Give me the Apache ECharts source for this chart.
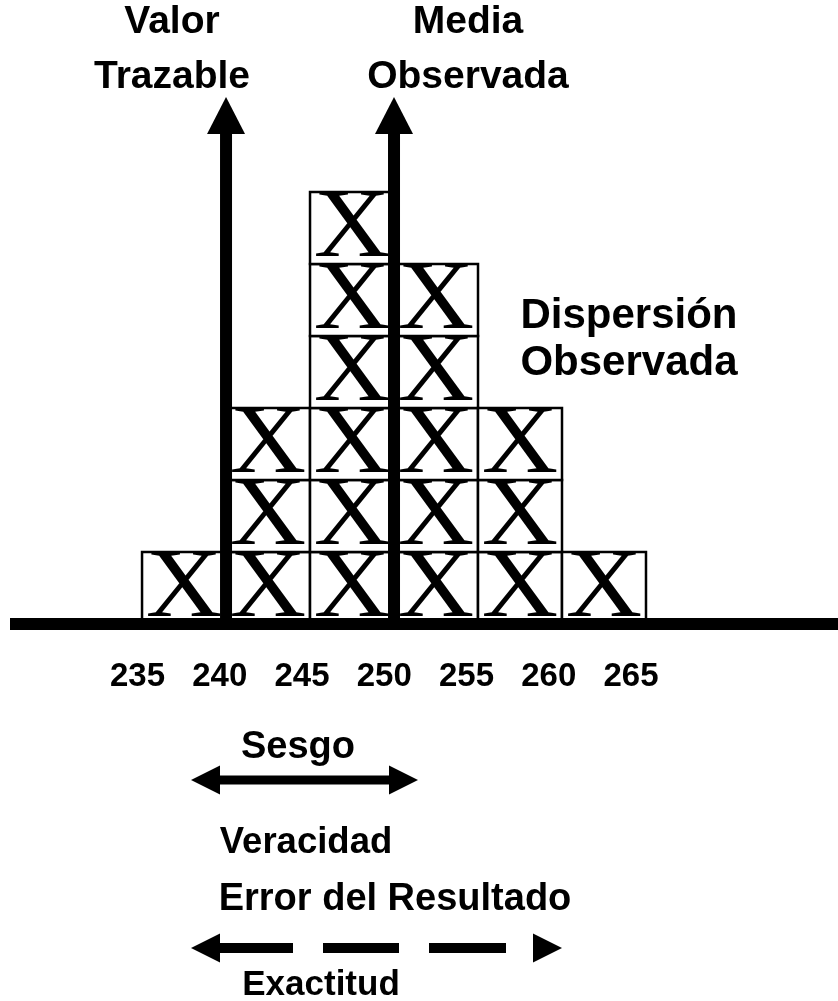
<!DOCTYPE html>
<html lang="es">
<head>
<meta charset="UTF-8">
<title>Veracidad y exactitud</title>
<script src="https://cdn.jsdelivr.net/npm/echarts@6/dist/echarts.min.js"></script>
<style>
  html, body { margin: 0; padding: 0; background: #fff; }
  #main { width: 838px; height: 1001px; }
</style>
</head>
<body>
<div id="main"></div>
<script>
// datos: inicio de cada clase (ancho 5) y cuantas X hay en cada una
var binStarts = [235, 240, 245, 250, 255, 260];
var binCounts = [1, 3, 6, 5, 3, 1];
var binWidth = 5;
var tickValues = [235, 240, 245, 250, 255, 260, 265];
// flechas verticales: valor trazable y media observada (altura en "filas")
var arrowValues = [240, 250];
var arrowHeights = [7.32, 7.32];

var SANS = '"Liberation Sans", Arial, sans-serif';

// una caja por cada X
var boxes = [];
for (var i = 0; i < binStarts.length; i++) {
  for (var r = 0; r < binCounts[i]; r++) {
    boxes.push([binStarts[i], r]);
  }
}
var arrows = arrowValues.map(function (v, i) { return [v, arrowHeights[i]]; });

var chart = echarts.init(document.getElementById('main'));

function txt(text, x, y, size, lh) {
  return {
    type: 'text',
    style: {
      text: text, x: x, y: y,
      textAlign: 'center', textVerticalAlign: 'middle',
      font: 'bold ' + size + 'px ' + SANS,
      lineHeight: lh || size,
      fill: '#000'
    }
  };
}
function headLeft(x, y) { // punta en x
  return { type: 'polygon', shape: { points: [[x, y], [x + 29, y - 14.5], [x + 29, y + 14.5]] }, style: { fill: '#000' } };
}
function headRight(x, y) {
  return { type: 'polygon', shape: { points: [[x, y], [x - 29, y - 14.5], [x - 29, y + 14.5]] }, style: { fill: '#000' } };
}
function bar(x1, x2, y, h) {
  return { type: 'rect', shape: { x: x1, y: y - h / 2, width: x2 - x1, height: h }, style: { fill: '#000' } };
}

chart.setOption({
  animation: false,
  backgroundColor: '#fff',
  grid: { left: 10, right: 0, top: 84, bottom: 377 },
  xAxis: [{
    type: 'value',
    min: 227.14, max: 276.43,
    z: 5,
    axisLine: { show: true, lineStyle: { color: '#000', width: 12, cap: 'butt' } },
    axisTick: { show: false },
    axisLabel: { show: false },
    splitLine: { show: false }
  }, {
    // solo para las etiquetas (algo desplazadas respecto a las cajas)
    type: 'value',
    position: 'bottom',
    min: 227.25, max: 277.58,
    axisLine: { show: false },
    axisTick: { show: false },
    splitLine: { show: false },
    axisLabel: {
      show: true,
      customValues: tickValues,
      margin: 36,
      fontFamily: SANS,
      fontWeight: 'bold',
      fontSize: 33,
      color: '#000'
    }
  }],
  yAxis: {
    type: 'value', min: 0, max: 7.5,
    show: false
  },
  series: [{
    type: 'custom',
    name: 'cajas',
    z: 2,
    clip: false,
    data: boxes,
    renderItem: function (params, api) {
      var x = api.value(0), row = api.value(1);
      var p0 = api.coord([x, row]);
      var p1 = api.coord([x + binWidth, row + 1]);
      return {
        type: 'group',
        children: [{
          type: 'rect',
          shape: { x: p0[0], y: p1[1], width: p1[0] - p0[0], height: p0[1] - p1[1] },
          style: { fill: '#fff', stroke: '#000', lineWidth: 2.5 }
        }, {
          type: 'text',
          x: (p0[0] + p1[0]) / 2,
          y: (p0[1] + p1[1]) / 2 + 2,
          scaleX: 1.08,
          style: {
            text: 'X',
            x: 0, y: 0,
            textAlign: 'center',
            textVerticalAlign: 'middle',
            font: '98px "Liberation Serif", "Times New Roman", serif',
            fill: '#000'
          }
        }]
      };
    }
  }, {
    type: 'custom',
    name: 'flechas',
    z: 3,
    clip: false,
    xAxisIndex: 0,
    data: arrows,
    renderItem: function (params, api) {
      var x = api.value(0), h = api.value(1);
      var base = api.coord([x, 0]);
      var tip = api.coord([x, h]);
      var headH = 37, headW = 38, shaftW = 12;
      return {
        type: 'group',
        children: [{
          type: 'rect',
          shape: { x: base[0] - shaftW / 2, y: tip[1] + headH - 1, width: shaftW, height: base[1] - tip[1] - headH + 1 },
          style: { fill: '#000' }
        }, {
          type: 'polygon',
          shape: { points: [[base[0], tip[1]], [base[0] - headW / 2, tip[1] + headH], [base[0] + headW / 2, tip[1] + headH]] },
          style: { fill: '#000' }
        }]
      };
    }
  }],
  graphic: [
    txt('Valor\nTrazable', 172, 50, 39, 55),
    txt('Media\nObservada', 468, 50, 39, 55),
    txt('Dispersión\nObservada', 629, 340, 42, 47),
    txt('Sesgo', 298, 748, 38),
    headLeft(191, 780), bar(219, 391, 780, 9), headRight(418, 780),
    txt('Veracidad', 306, 843, 36.5),
    txt('Error del Resultado', 395, 900, 38),
    headLeft(191, 948), bar(219, 293, 948, 10),
    bar(323, 399, 948, 10), bar(429, 506, 948, 10),
    headRight(562, 948),
    txt('Exactitud', 321, 985, 35)
  ]
});
</script>
</body>
</html>
